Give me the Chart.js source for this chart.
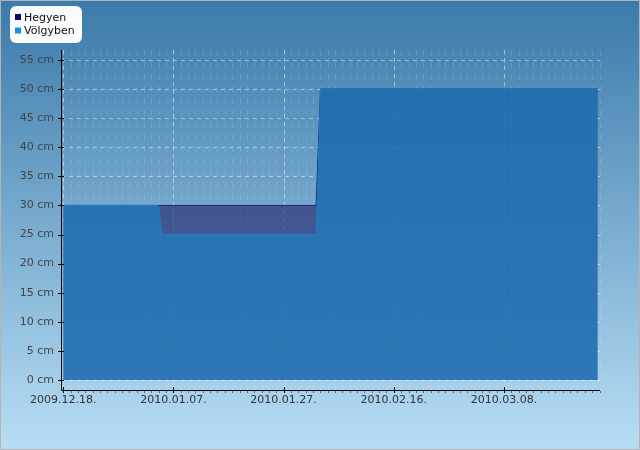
<!DOCTYPE html>
<html>
<head>
<meta charset="utf-8">
<script src="https://cdn.jsdelivr.net/npm/chart.js@4"></script>
<style>
  body { margin: 0; }
  #wrap { width: 640px; height: 450px; }
</style>
</head>
<body>
<div id="wrap"><canvas id="myChart" width="640" height="450"></canvas></div>
<script>
const seriesNames = ['Hegyen', 'Völgyben'];
const seriesColors = ['#0b0b66', '#1a90d8'];

// days counted from 2009.12.18.
const hegyenDays = [0, 45.9, 46.7, 97];
const hegyenCm = [30, 30, 50, 50];
const volgybenDays = [0, 17.2, 18, 45.9, 46.7, 97];
const volgybenCm = [30, 30, 25, 25, 50, 50];

const xTickDays = [0, 20, 40, 60, 80];
const yTickCm = [0, 5, 10, 15, 20, 25, 30, 35, 40, 45, 50, 55];
const startDate = Date.UTC(2009, 11, 18);

const font = { family: 'DejaVu Sans', size: 11 };

function dayLabel(d) {
  const dt = new Date(startDate + d * 86400000);
  const p = n => String(n).padStart(2, '0');
  return dt.getUTCFullYear() + '.' + p(dt.getUTCMonth() + 1) + '.' + p(dt.getUTCDate()) + '.';
}

function toPoints(xs, ys) {
  return xs.map((x, i) => ({ x: x, y: ys[i] }));
}

const bgPlugin = {
  id: 'bg',
  beforeDraw(chart) {
    const c = chart.ctx;
    const g = c.createLinearGradient(0, 0, 0, chart.height);
    g.addColorStop(0, '#3b7aaa');
    g.addColorStop(1, '#b8def5');
    c.save();
    c.fillStyle = g;
    c.fillRect(0, 0, chart.width, chart.height);
    c.restore();
  },
  beforeDatasetsDraw(chart) {
    const c = chart.ctx, a = chart.chartArea;
    const xs = chart.scales.x, ys = chart.scales.y;
    c.save();
    c.lineWidth = 1;
    // minor vertical grid
    c.strokeStyle = 'rgba(255,255,255,0.13)';
    c.setLineDash([6, 6]);
    for (let d = 0; d <= xs.max; d += 4 / 3) {
      const px = Math.round(xs.getPixelForValue(d)) + 0.5;
      c.beginPath(); c.moveTo(px, a.top); c.lineTo(px, a.bottom); c.stroke();
    }
    // major grid
    c.strokeStyle = 'rgba(255,255,255,0.45)';
    c.setLineDash([4, 4]);
    yTickCm.forEach(v => {
      const py = Math.round(ys.getPixelForValue(v)) + 0.5;
      c.beginPath(); c.moveTo(a.left, py); c.lineTo(a.right, py); c.stroke();
    });
    xTickDays.forEach(v => {
      const px = Math.round(xs.getPixelForValue(v)) + 0.5;
      c.beginPath(); c.moveTo(px, a.top); c.lineTo(px, a.bottom); c.stroke();
    });
    c.restore();
  },
  afterDraw(chart) {
    const c = chart.ctx, a = chart.chartArea;
    const xs = chart.scales.x, ys = chart.scales.y;
    c.save();
    // axes
    c.strokeStyle = '#000';
    c.lineWidth = 1;
    c.beginPath();
    c.moveTo(a.left + 0.5, a.top); c.lineTo(a.left + 0.5, a.bottom + 0.5);
    c.lineTo(a.right, a.bottom + 0.5);
    c.stroke();
    yTickCm.forEach(v => {
      const py = Math.round(ys.getPixelForValue(v)) + 0.5;
      c.beginPath(); c.moveTo(a.left - 3, py); c.lineTo(a.left + 3, py); c.stroke();
    });
    xTickDays.forEach(v => {
      const px = Math.round(xs.getPixelForValue(v)) + 0.5;
      c.beginPath(); c.moveTo(px, a.bottom - 3); c.lineTo(px, a.bottom + 3); c.stroke();
    });
    c.strokeStyle = 'rgba(0,0,0,0.5)';
    for (let d = 0; d <= xs.max; d += 4 / 3) {
      const px = Math.round(xs.getPixelForValue(d)) + 0.5;
      c.beginPath(); c.moveTo(px, a.bottom + 1); c.lineTo(px, a.bottom + 3); c.stroke();
    }
    // legend box
    c.fillStyle = 'rgba(255,255,255,0.97)';
    c.beginPath();
    c.roundRect(10, 6, 72, 37, 6);
    c.fill();
    c.font = '11px "DejaVu Sans"';
    c.textBaseline = 'alphabetic';
    seriesNames.forEach((name, i) => {
      const y = 14 + i * 13.5;
      c.fillStyle = seriesColors[i];
      c.fillRect(15, y, 6, 6);
      c.fillStyle = '#111';
      c.fillText(name, 24, y + 6.5);
    });
    // outer border
    c.strokeStyle = '#b4b4b4';
    c.strokeRect(0.5, 0.5, chart.width - 1, chart.height - 1);
    c.restore();
  }
};

new Chart(document.getElementById('myChart'), {
  type: 'line',
  data: {
    datasets: [{
      label: seriesNames[0],
      data: toPoints(hegyenDays, hegyenCm),
      fill: 'origin',
      backgroundColor: 'rgba(28,28,105,0.6)',
      borderColor: 'rgba(20,20,100,0.85)',
      borderWidth: 1,
      pointRadius: 0,
      tension: 0,
      order: 1
    }, {
      label: seriesNames[1],
      data: toPoints(volgybenDays, volgybenCm),
      fill: 'origin',
      backgroundColor: 'rgba(32,126,191,0.72)',
      borderColor: 'rgba(32,126,191,0.9)',
      borderWidth: 1,
      pointRadius: 0,
      tension: 0,
      order: 0
    }]
  },
  options: {
    responsive: false,
    animation: false,
    layout: { padding: { top: 50, right: 40, left: 0, bottom: 0 } },
    plugins: { legend: { display: false }, tooltip: { enabled: false } },
    scales: {
      x: {
        type: 'linear',
        min: -0.4,
        max: 97.42,
        grid: { display: false, drawTicks: false },
        border: { display: false },
        afterBuildTicks: s => { s.ticks = xTickDays.map(v => ({ value: v })); },
        afterFit: s => { s.height = 60; },
        ticks: {
          font: font,
          color: '#333',
          padding: 4,
          maxRotation: 0,
          autoSkip: false,
          callback: v => dayLabel(v)
        }
      },
      y: {
        min: -1.72,
        max: 56.72,
        grid: { display: false, drawTicks: false },
        border: { display: false },
        afterBuildTicks: s => { s.ticks = yTickCm.map(v => ({ value: v })); },
        afterFit: s => { s.width = 61; },
        ticks: {
          font: font,
          color: '#444',
          padding: 7,
          callback: v => v + ' cm'
        }
      }
    }
  },
  plugins: [bgPlugin]
});
</script>
</body>
</html>
